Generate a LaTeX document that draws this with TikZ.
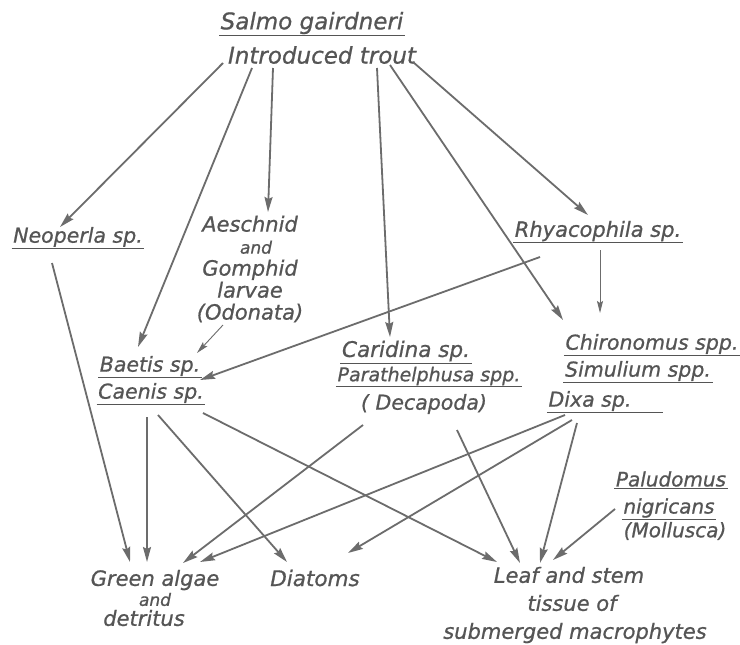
\documentclass[tikz,border=0pt]{standalone}
\usepackage{fontspec}
\setmainfont{DejaVu Sans}[ItalicFeatures={FakeBold=0.8}]
\usetikzlibrary{arrows.meta}
\definecolor{ink}{HTML}{555555}
\definecolor{wire}{HTML}{6C6C6C}
\begin{document}
\begin{tikzpicture}[x=1pt,y=-1pt,
  lbl/.style={text=ink, font=\fontsize{20.5}{22}\selectfont\itshape, inner sep=1.5pt, align=center},
  big/.style={lbl, font=\fontsize{23}{23}\selectfont\itshape},
  ul/.style={append after command={(\tikzlastnode.south west) edge[draw=ink, line width=1.2pt] (\tikzlastnode.south east)}},
  arr/.style={draw=wire, line width=1.8pt, -{Stealth[length=15pt,width=8pt,inset=2pt]}},
  tarr/.style={arr, line width=0.9pt, -{Stealth[length=12pt,width=6pt,inset=2pt]}}
]
\useasboundingbox[fill=white] (0,0) rectangle (740,645);

% nodes
\node[big,ul] (salmo) at (312,23) {Salmo gairdneri};
\node[big] (trout) at (322,55) {Introduced trout};
\node[lbl,ul] (neoperla) at (78,237) {Neoperla sp.};
\node[lbl, font=\fontsize{21}{22}\selectfont\itshape] (aesch) at (250,269) {Aeschnid\\{\fontsize{17}{17}\selectfont\kern12pt and}\\Gomphid\\larvae\\(Odonata)};
\node[lbl,ul, font=\fontsize{21}{22}\selectfont\itshape] (rhyaco) at (598,231) {Rhyacophila sp.};
\node[lbl,ul] (baetis) at (150,366) {Baetis sp.};
\node[lbl,ul] (caenis) at (151,393) {Caenis sp.};
\node[lbl,ul, font=\fontsize{21.5}{22}\selectfont\itshape] (caridina) at (406,351) {Caridina sp.};
\node[lbl,ul, font=\fontsize{19}{22}\selectfont\itshape] (para) at (429,376) {Parathelphusa spp.};
\node[lbl] (deca) at (424,404) {( Decapoda)};
\node[lbl,ul] (chiro) at (652,344) {Chironomus spp.};
\node[lbl,ul] (simul) at (638,371) {Simulium spp.};
\node[lbl,ul] (dixa) at (605,401) {Dixa sp.\kern30pt};
\node[lbl,ul, font=\fontsize{20}{22}\selectfont\itshape] (palud) at (671,479) {Paludomus};
\node[lbl,ul, font=\fontsize{20}{22}\selectfont\itshape] (nigr) at (669,508) {nigricans};
\node[lbl, font=\fontsize{20}{22}\selectfont\itshape] (moll) at (675,531) {(Mollusca)};
\node[lbl, font=\fontsize{21}{20}\selectfont\itshape] (green) at (155,598) {Green algae\\{\fontsize{17}{17}\selectfont and}\\detritus\kern22pt};
\node[lbl, font=\fontsize{21.5}{22}\selectfont\itshape] (diatoms) at (315,578) {Diatoms};
\node[lbl, font=\fontsize{21}{28}\selectfont\itshape] (leaf) at (575,605) {Leaf and stem\kern12pt\\tissue of\kern6pt\\submerged macrophytes};

% connectors
\draw[arr] ([shift={(-99,8)}]trout.center) -- ([shift={(-18,-10)}]neoperla.center);
\draw[arr] ([shift={(-70,13)}]trout.center) -- ([shift={(-12,-19)}]baetis.center);
\draw[arr] ([shift={(-49,13)}]trout.center) -- ([shift={(18,-57)}]aesch.center);
\draw[arr] ([shift={(55,13)}]trout.center) -- ([shift={(-16,-14)}]caridina.center);
\draw[arr] ([shift={(68,10)}]trout.center) -- ([shift={(-89,-24)}]chiro.center);
\draw[arr] ([shift={(91,7)}]trout.center) -- ([shift={(-10,-16)}]rhyaco.center);
\draw[arr] ([shift={(-58,26)}]rhyaco.center) -- ([shift={(50,14)}]baetis.center);
\draw[tarr] ([shift={(2,19)}]rhyaco.center) -- ([shift={(-52,-31)}]chiro.center);
\draw[tarr] ([shift={(-27,56)}]aesch.center) -- ([shift={(47,-13)}]baetis.center);
\draw[arr] ([shift={(-26,26)}]neoperla.center) -- ([shift={(-25,-36)}]green.center);
\draw[arr] ([shift={(-4,24)}]caenis.center) -- ([shift={(-8,-36)}]green.center);
\draw[arr] ([shift={(7,22)}]caenis.center) -- ([shift={(-28,-16)}]diatoms.center);
\draw[arr] ([shift={(52,20)}]caenis.center) -- ([shift={(-78,-43)}]leaf.center);
\draw[arr] ([shift={(-61,21)}]deca.center) -- ([shift={(28,-35)}]green.center);
\draw[arr] ([shift={(33,26)}]deca.center) -- ([shift={(-55,-42)}]leaf.center);
\draw[arr] ([shift={(-40,14)}]dixa.center) -- ([shift={(45,-36)}]green.center);
\draw[arr] ([shift={(-33,19)}]dixa.center) -- ([shift={(33,-25)}]diatoms.center);
\draw[arr] ([shift={(-28,22)}]dixa.center) -- ([shift={(-35,-42)}]leaf.center);
\draw[arr] ([shift={(-54,1)}]nigr.center) -- ([shift={(-22,-45)}]leaf.center);
\end{tikzpicture}
\end{document}
